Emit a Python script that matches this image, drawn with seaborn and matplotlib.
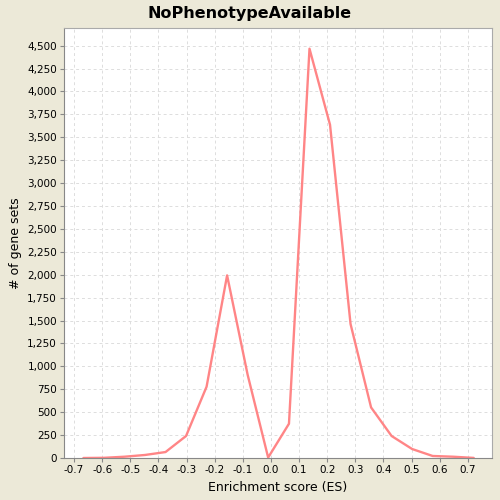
"""Enrichment score distribution for NoPhenotypeAvailable."""

import numpy as np
import pandas as pd
import matplotlib
matplotlib.use("Agg")
import matplotlib.pyplot as plt
import seaborn as sns
from matplotlib.ticker import FuncFormatter, MultipleLocator

# values
es_scores = [-0.667, -0.594, -0.521, -0.448, -0.375, -0.302, -0.229, -0.156, -0.083, -0.010,
             0.064, 0.137, 0.210, 0.283, 0.356, 0.429, 0.502, 0.575, 0.648, 0.721]
gene_set_counts = [0, 2, 14, 33, 65, 240, 778, 1993, 909, 5,
                   374, 4467, 3637, 1462, 552, 240, 98, 22, 14, 1]
x_ticks = [-0.7, -0.6, -0.5, -0.4, -0.3, -0.2, -0.1, 0.0, 0.1, 0.2, 0.3, 0.4, 0.5, 0.6, 0.7]

df = pd.DataFrame({"es": es_scores, "count": gene_set_counts})

sns.set_style("white")
plt.rcParams["font.family"] = ["DejaVu Sans"]
plt.rcParams["text.color"] = "black"
plt.rcParams["axes.labelcolor"] = "black"
plt.rcParams["xtick.labelcolor"] = "black"
plt.rcParams["ytick.labelcolor"] = "black"

bg = "#ECE9D8"
fig = plt.figure(figsize=(5, 5), dpi=100, facecolor=bg)
ax = fig.add_axes([0.128, 0.084, 0.856, 0.86])
ax.set_facecolor("white")

sns.lineplot(data=df, x="es", y="count", ax=ax, color="#FF7F80", linewidth=1.7, alpha=0.95)

ax.set_xlim(-0.736, 0.786)
ax.set_ylim(0, 4693)
ax.set_xticks(x_ticks)
ax.set_xticklabels([f"{t:.1f}" for t in x_ticks])
ax.yaxis.set_major_locator(MultipleLocator(250))
ax.yaxis.set_major_formatter(FuncFormatter(lambda v, p: f"{int(v):,}"))

ax.grid(True, color="#DDDDDD", linestyle=(0, (3, 3)), linewidth=0.7)
ax.tick_params(axis="both", labelsize=7.5, length=3, color="#888888", direction="out",
               bottom=True, left=True, pad=2)
for side in ["left", "bottom"]:
    ax.spines[side].set_color("#888888")
for side in ["top", "right"]:
    ax.spines[side].set_color("#AAAAAA")

fig.suptitle("NoPhenotypeAvailable", x=0.5, y=0.988, fontsize=11.5, fontweight="bold",
             color="black")
ax.set_xlabel("Enrichment score (ES)", fontsize=9)
ax.set_ylabel("# of gene sets", fontsize=9)

fig.savefig("out.png", dpi=100, facecolor=bg)
plt.close(fig)
